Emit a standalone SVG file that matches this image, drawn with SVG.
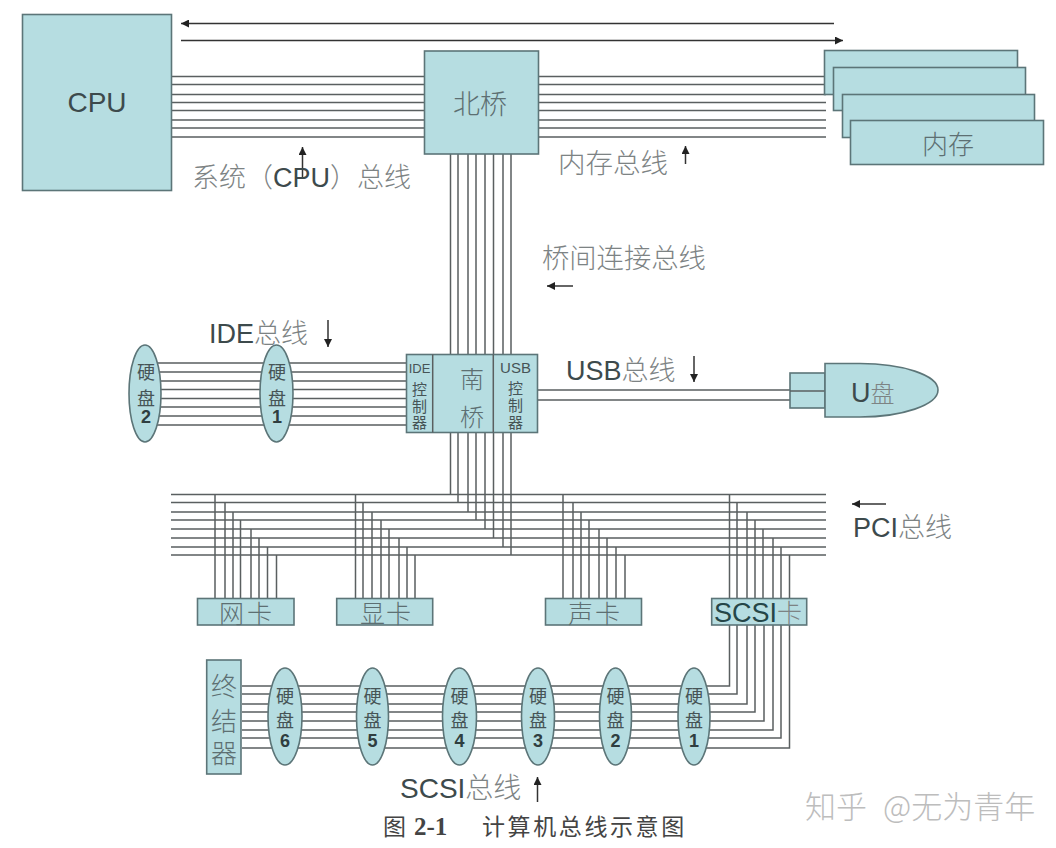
<svg xmlns="http://www.w3.org/2000/svg" width="1056" height="848" viewBox="0 0 1056 848">
<style>
text{font-family:"Liberation Sans","Noto Sans CJK SC",sans-serif;fill:#3d4a4c}
.c{font-family:"Noto Sans CJK SC",sans-serif;fill:#7d8384;font-weight:300}
.t{font-family:"Noto Sans CJK SC",sans-serif;fill:#5d6f72;font-weight:300}
.d{font-family:"Noto Sans CJK SC",sans-serif;fill:#465456;font-size:18px;text-anchor:middle}
.s{font-size:15px}
.n{font-family:"Liberation Sans",sans-serif;fill:#2f3e40;font-weight:700}
.m{text-anchor:middle}
.b{fill:#b6dde1;stroke:#5c7578;stroke-width:1.6}
.bus{fill:none;stroke:#5a5f60;stroke-width:1.5}
.ar{fill:none;stroke:#333;stroke-width:1.5}
</style>
<defs>
<marker id="ah" markerUnits="userSpaceOnUse" markerWidth="10" markerHeight="8" refX="8" refY="4" orient="auto"><path d="M0 0L8 4L0 8Z" fill="#222"/></marker>
</defs>
<rect width="1056" height="848" fill="#fff"/>
<g id="connectors">
<path class="bus" d="M171 76.500H424M171 84.500H424M171 94.500H424M171 102.500H424M171 110.500H424M171 120H424M171 128H424M171 137H424"/>
<path class="bus" d="M539 76.500H826M539 84.500H826M539 94.500H826M539 102.500H826M539 110.500H826M539 120H826M539 128H826M539 137H826"/>
<path class="bus" d="M450.500 154V354M458 154V354M468 154V354M476 154V354M485 154V354M493.500 154V354M503 154V354M511 154V354"/>
<path class="bus" d="M450.500 432V494.500M458 432V502.500M468 432V512M476 432V520M485 432V529M493.500 432V538M503 432V547M511 432V555"/>
<path class="bus" d="M171 494.500H826M171 502.500H826M171 512H826M171 520H826M171 529H826M171 538H826M171 547H826M171 555H826"/>
<path class="bus" d="M147 363H407M147 372H407M147 381H407M147 389.500H407M147 398.500H407M147 407H407M147 416H407M147 425H407"/>
<path class="bus" d="M538 390H790M538 400H790"/>
<path class="bus" d="M215 494.500V598M225 502.500V598M233 512V598M240.500 520V598M251 529V598M259 538V598M267.500 547V598M276.500 555V598"/>
<path class="bus" d="M355.500 494.500V598M363 502.500V598M372 512V598M381 520V598M389 529V598M399 538V598M407 547V598M415 555V598"/>
<path class="bus" d="M563 494.500V598M573 502.500V598M581 512V598M589 520V598M599 529V598M607 538V598M616 547V598M625 555V598"/>
<path class="bus" d="M729.500 494.500V598M737 502.500V598M747 512V598M755 520V598M763 529V598M773 538V598M781 547V598M789.500 555V598"/>
<path class="bus" d="M729.500 625V686H242M737 625V694H242M747 625V704H242M755 625V712H242M764 625V721H242M773 625V730H242M781 625V738H242M789.500 625V748H242"/>
<path class="ar" d="M834 23.500H181" marker-end="url(#ah)"/>
<path class="ar" d="M181 40.500H843" marker-end="url(#ah)"/>
<path class="ar" d="M302.500 178V147" marker-end="url(#ah)"/>
<path class="ar" d="M685.500 164V146" marker-end="url(#ah)"/>
<path class="ar" d="M573 286H547" marker-end="url(#ah)"/>
<path class="ar" d="M328 320V347" marker-end="url(#ah)"/>
<path class="ar" d="M694 356V382" marker-end="url(#ah)"/>
<path class="ar" d="M886 504H852" marker-end="url(#ah)"/>
<path class="ar" d="M537.500 802V777" marker-end="url(#ah)"/>
</g>
<g id="cpu"><rect class="b" x="22.500" y="14.500" width="149" height="176"/><text class="m" x="97" y="112" font-size="28">CPU</text></g>
<g id="northbridge"><rect class="b" x="424.500" y="51" width="114" height="103"/><text class="t m" x="480" y="114" font-size="27">北桥</text></g>
<g id="memory">
<rect class="b" x="824.500" y="50.500" width="193" height="44"/>
<rect class="b" x="833.500" y="67.500" width="192" height="43"/>
<rect class="b" x="842.500" y="94.500" width="192" height="43"/>
<rect class="b" x="850.500" y="120.500" width="193" height="44"/>
<text class="t m" x="948" y="154" font-size="26">内存</text>
</g>
<g id="southbridge">
<rect class="b" x="406.500" y="354.500" width="131" height="78"/>
<path class="bus" d="M432.700 354.500V432.500M493.300 354.500V432.500"/>
<text class="d s"><tspan x="419.500" y="373" style="font-family:'Liberation Sans',sans-serif;font-size:13px">IDE</tspan><tspan x="419.500" y="395">控</tspan><tspan x="419.500" y="412">制</tspan><tspan x="419.500" y="428">器</tspan></text>
<text class="t m" font-size="24"><tspan x="472" y="388">南</tspan><tspan x="472" y="426">桥</tspan></text>
<text class="d s"><tspan x="515.500" y="373" style="font-family:'Liberation Sans',sans-serif">USB</tspan><tspan x="515.500" y="394">控</tspan><tspan x="515.500" y="411">制</tspan><tspan x="515.500" y="428">器</tspan></text>
</g>
<g id="ide-disk-2"><ellipse class="b" cx="145" cy="393.500" rx="16" ry="48.500"/><text class="d"><tspan x="146" y="379">硬</tspan><tspan x="146" y="405">盘</tspan><tspan class="n" x="146" y="423">2</tspan></text></g>
<g id="ide-disk-1"><ellipse class="b" cx="276.500" cy="393.500" rx="16.500" ry="48.500"/><text class="d"><tspan x="277" y="379">硬</tspan><tspan x="277" y="405">盘</tspan><tspan class="n" x="277" y="423">1</tspan></text></g>
<g id="usb-disk">
<rect class="b" x="790" y="373" width="35" height="35"/>
<path class="bus" d="M790 391H825"/>
<path class="b" d="M825 363.500H860C902 363.500 938 375 938 390C938 405 902 417 860 417H825Z"/>
<text x="851" y="402" font-size="27">U<tspan class="c" font-size="24">盘</tspan></text>
</g>
<g id="nic"><rect class="b" x="197.500" y="598.500" width="96.500" height="26.500"/><text class="t" x="219" y="623" font-size="25">网<tspan x="247">卡</tspan></text></g>
<g id="gpu"><rect class="b" x="336.700" y="598.500" width="96" height="26.500"/><text class="t" x="360" y="623" font-size="25">显<tspan x="386">卡</tspan></text></g>
<g id="sound"><rect class="b" x="545.500" y="598.500" width="96" height="26.500"/><text class="t" x="568" y="623" font-size="25">声<tspan x="595">卡</tspan></text></g>
<g id="scsi"><rect class="b" x="711.700" y="598.500" width="95" height="26.500"/><text x="714" y="622" font-size="27" style="fill:#254648">SCSI<tspan class="c" font-size="25">卡</tspan></text></g>
<g id="terminator"><rect class="b" x="206.700" y="660" width="34.300" height="114"/><text class="t m" font-size="26"><tspan x="224" y="696">终</tspan><tspan x="224" y="731">结</tspan><tspan x="224" y="763">器</tspan></text></g>
<g id="scsi-disk-6"><ellipse class="b" cx="285" cy="716.500" rx="17" ry="48.500"/><text class="d"><tspan x="285" y="703">硬</tspan><tspan x="285" y="727">盘</tspan><tspan class="n" x="285" y="747">6</tspan></text></g>
<g id="scsi-disk-5"><ellipse class="b" cx="372.500" cy="716.500" rx="16" ry="48.500"/><text class="d"><tspan x="372.500" y="703">硬</tspan><tspan x="372.500" y="727">盘</tspan><tspan class="n" x="372.500" y="747">5</tspan></text></g>
<g id="scsi-disk-4"><ellipse class="b" cx="459.500" cy="716.500" rx="17" ry="48.500"/><text class="d"><tspan x="459.500" y="703">硬</tspan><tspan x="459.500" y="727">盘</tspan><tspan class="n" x="459.500" y="747">4</tspan></text></g>
<g id="scsi-disk-3"><ellipse class="b" cx="538" cy="716.500" rx="16.500" ry="48.500"/><text class="d"><tspan x="538" y="703">硬</tspan><tspan x="538" y="727">盘</tspan><tspan class="n" x="538" y="747">3</tspan></text></g>
<g id="scsi-disk-2"><ellipse class="b" cx="615.500" cy="716.500" rx="16" ry="48.500"/><text class="d"><tspan x="615.500" y="703">硬</tspan><tspan x="615.500" y="727">盘</tspan><tspan class="n" x="615.500" y="747">2</tspan></text></g>
<g id="scsi-disk-1"><ellipse class="b" cx="694" cy="716.500" rx="16" ry="48.500"/><text class="d"><tspan x="694" y="703">硬</tspan><tspan x="694" y="727">盘</tspan><tspan class="n" x="694" y="747">1</tspan></text></g>
<g id="labels">
<text x="192" y="187" font-size="27"><tspan class="c">系统（</tspan><tspan>CPU</tspan><tspan class="c">）总线</tspan></text>
<text class="c" x="558" y="173" font-size="27.500">内存总线</text>
<text class="c" x="542" y="268" font-size="27.300">桥间连接总线</text>
<text x="209" y="343" font-size="27">IDE<tspan class="c">总线</tspan></text>
<text x="566" y="380" font-size="27">USB<tspan class="c">总线</tspan></text>
<text x="853" y="537" font-size="27">PCI<tspan class="c">总线</tspan></text>
<text x="400" y="798" font-size="28">SCSI<tspan class="c">总线</tspan></text>
<text x="383" y="835" font-size="23" style="font-family:'Noto Sans CJK SC',serif;fill:#444">图</text>
<text x="414" y="835" font-size="25" font-weight="700" style="font-family:'Liberation Serif',serif;fill:#444">2-1</text>
<text class="c" x="482" y="835" font-size="23" letter-spacing="2.600" style="fill:#444;font-weight:400">计算机总线示意图</text>
<text class="c" x="805" y="818" font-size="31" style="fill:#bdbdbd">知乎</text>
<text class="c" x="883" y="818" font-size="31" style="fill:#bdbdbd">@无为青年</text>
</g>
</svg>
